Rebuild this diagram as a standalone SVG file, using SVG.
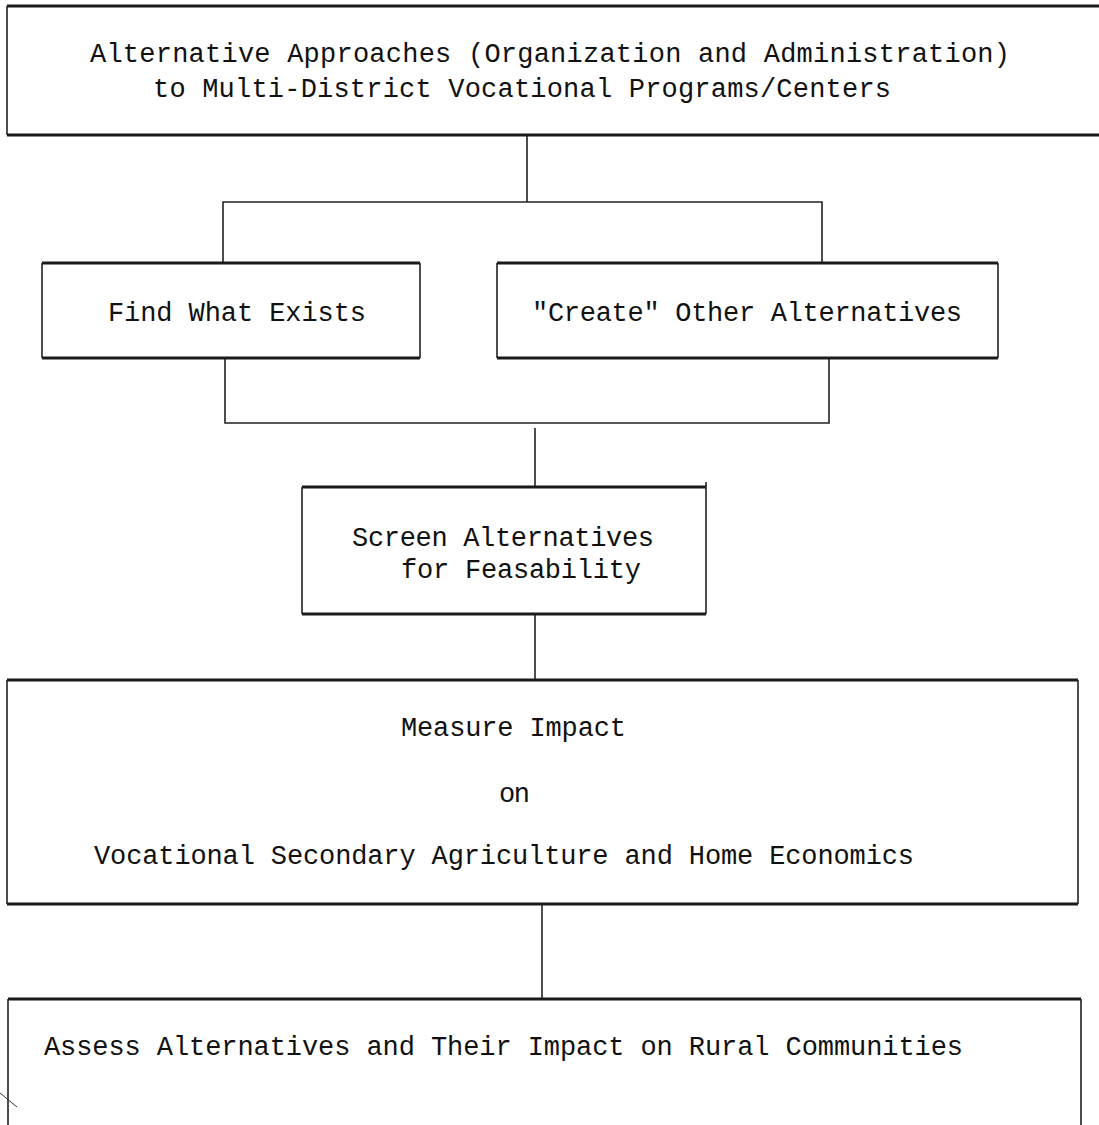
<svg xmlns="http://www.w3.org/2000/svg" width="1099" height="1125" viewBox="0 0 1099 1125">
<style>
.side{fill:none;stroke:#222;stroke-width:1.6}
.edge{fill:none;stroke:#1a1a1a;stroke-width:3}
.conn{fill:none;stroke:#222;stroke-width:1.6}
text{font-family:"Liberation Mono","DejaVu Sans Mono",monospace;font-size:27px;fill:#111}
</style>
<rect width="1099" height="1125" fill="#fff"/>
<g id="connectors">
<path class="conn" d="M527,135 V202"/>
<path class="conn" d="M223,263 V202 H822 V263"/>
<path class="conn" d="M225,358 V423 H829 V358"/>
<path class="conn" d="M535,428 V487"/>
<path class="conn" d="M535,614 V680"/>
<path class="conn" d="M542,904 V999"/>
</g>
<g id="node-title">
<path class="edge" d="M7,6 H1100 M7,135 H1100"/>
<path class="side" d="M7,6 V135"/>
<text x="90" y="62" textLength="920">Alternative Approaches (Organization and Administration)</text>
<text x="153" y="97" textLength="738">to Multi-District Vocational Programs/Centers</text>
</g>
<g id="node-find">
<path class="edge" d="M42,263 H420 M42,358 H420"/>
<path class="side" d="M42,263 V358 M420,263 V358"/>
<text x="108" y="321" textLength="258">Find What Exists</text>
</g>
<g id="node-create">
<path class="edge" d="M497,263 H998 M497,358 H998"/>
<path class="side" d="M497,263 V358 M998,263 V358"/>
<text x="532" y="321" textLength="430">"Create" Other Alternatives</text>
</g>
<g id="node-screen">
<path class="edge" d="M302,487 H706 M302,614 H706"/>
<path class="side" d="M302,487 V614 M706,482 V614"/>
<text x="352" y="546" textLength="302">Screen Alternatives</text>
<text x="401" y="578" textLength="240">for Feasability</text>
</g>
<g id="node-measure">
<path class="edge" d="M7,680 H1078 M7,904 H1078"/>
<path class="side" d="M7,680 V904 M1078,680 V904"/>
<text x="401" y="736" textLength="225">Measure Impact</text>
<text x="499" y="802" textLength="31">on</text>
<text x="94" y="864" textLength="820">Vocational Secondary Agriculture and Home Economics</text>
</g>
<g id="node-assess">
<path class="edge" d="M8,999 H1081"/>
<path class="side" d="M8,999 V1126 M1081,999 V1126"/>
<text x="44" y="1055" textLength="919">Assess Alternatives and Their Impact on Rural Communities</text>
</g>
<path d="M0,1093 L17,1107" fill="none" stroke="#333" stroke-width="1"/>
</svg>
